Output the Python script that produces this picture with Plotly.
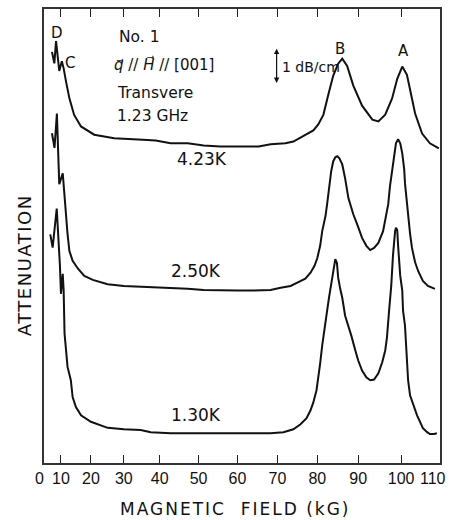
import numpy as np
import plotly.graph_objects as go

# ---------------- data ----------------
# Recorder field scale (kG) -- non-linear, tick labels as printed
field_ticks = [0, 10, 20, 30, 40, 50, 60, 70, 80, 90, 100, 110]
tick_labels = [str(v) for v in field_ticks]

# 4.23 K trace: magnetic field (kG) / attenuation (dB/cm, offset for display)
field_423 = [4.7, 6.1, 7.1, 9.0, 10.3, 10.9, 11.7, 12.8, 14.4, 16.7, 21.0, 27.1, 35.3, 38.9,
             42.8, 47.2, 51.3, 55.6, 60.0, 65.3, 68.3, 72.0, 74.0, 77.0, 79.0, 80.2, 81.5,
             82.7, 83.9, 85.1, 86.1, 87.3, 88.8, 90.9, 93.3, 94.7, 96.3, 97.9, 99.1, 100.3,
             101.5, 102.3, 103.6, 105.4, 107.4, 109.7]
att_423 = [11.47, 11.15, 11.77, 10.94, 11.21, 11.01, 10.64, 10.18, 9.71, 9.39, 9.16, 9.06, 9.02, 9.00,
           8.92, 8.92, 8.86, 8.83, 8.83, 8.83, 8.89, 8.92, 8.97, 9.17, 9.28, 9.44, 9.72,
           10.28, 10.81, 11.14, 11.28, 11.08, 10.53, 9.97, 9.58, 9.53, 9.72, 10.17, 10.72, 11.06,
           10.83, 10.42, 9.75, 9.19, 8.92, 8.78]

# 2.50 K trace
field_250 = [4.7, 6.2, 7.6, 8.2, 9.0, 10.6, 11.1, 12.2, 12.8, 13.9, 15.7, 17.8, 20.6, 25.1,
             30.0, 34.7, 38.3, 42.8, 47.2, 51.3, 55.6, 60.0, 64.0, 68.3, 70.8, 73.3, 75.0,
             77.0, 78.3, 79.3, 80.0, 80.7, 81.2, 82.0, 82.4, 82.9, 83.4, 83.9, 84.4, 84.9,
             85.4, 86.1, 86.8, 87.6, 88.8, 90.0, 90.9, 91.9, 92.8, 93.7, 94.7, 95.8, 96.5,
             97.0, 97.4, 97.9, 98.4, 98.8, 99.3, 99.8, 100.3, 100.8, 101.0, 101.5, 101.8,
             102.3, 102.8, 103.6, 104.4, 105.6, 106.9, 108.7]
att_250 = [9.20, 8.79, 9.75, 8.69, 7.78, 8.08, 7.49, 6.39, 5.92, 5.64, 5.42, 5.22, 5.11, 4.99,
           4.94, 4.92, 4.92, 4.89, 4.86, 4.83, 4.81, 4.81, 4.81, 4.83, 4.89, 4.94, 5.03,
           5.14, 5.31, 5.50, 5.72, 6.06, 6.47, 6.89, 7.22, 7.72, 8.14, 8.42, 8.53, 8.56,
           8.50, 8.33, 7.94, 7.39, 6.94, 6.58, 6.28, 6.06, 5.94, 6.00, 6.14, 6.47, 6.89,
           7.22, 7.72, 8.19, 8.64, 8.92, 9.03, 8.92, 8.64, 8.19, 7.80, 7.20, 6.80,
           6.40, 6.00, 5.60, 5.35, 5.08, 4.94, 4.86]

# 1.30 K trace
field_130 = [3.7, 5.1, 7.5, 8.4, 9.4, 10.0, 10.6, 10.9, 11.0, 11.2, 12.2, 13.3, 13.9, 15.0,
             16.7, 20.0, 25.1, 30.0, 34.7, 37.5, 42.8, 47.2, 53.8, 59.0, 64.0, 68.3, 71.5,
             74.0, 75.8, 77.3, 78.3, 79.0, 79.8, 80.2, 80.7, 81.2, 81.7, 82.4, 82.9, 83.4,
             83.9, 84.4, 84.8, 85.1, 85.6, 86.1, 86.8, 87.6, 88.3, 89.3, 90.0, 90.9, 91.9,
             92.8, 93.7, 94.7, 95.6, 96.3, 96.7, 97.2, 97.7, 98.1, 98.4, 98.6, 98.8, 99.1,
             99.3, 99.5, 99.8, 100.3, 100.5, 101.0, 101.5, 101.8, 102.3, 103.1, 104.1,
             104.9, 105.6, 106.7, 107.4, 108.5, 109.2]
att_130 = [6.38, 6.01, 7.10, 6.38, 5.50, 4.72, 5.28, 4.81, 4.39, 3.61, 2.68, 2.31, 1.84, 1.56,
           1.33, 1.15, 0.98, 0.94, 0.92, 0.86, 0.83, 0.83, 0.81, 0.83, 0.83, 0.83, 0.86,
           0.94, 1.08, 1.25, 1.47, 1.69, 2.03, 2.31, 2.78, 3.28, 3.75, 4.25, 4.64, 5.03,
           5.42, 5.69, 5.58, 5.17, 4.86, 4.61, 4.11, 3.83, 3.56, 3.14, 2.86, 2.58, 2.39,
           2.31, 2.33, 2.50, 2.81, 3.14, 3.50, 4.25, 4.94, 5.78, 6.25, 6.47, 6.56, 6.50,
           6.06, 5.64, 5.22, 4.81, 4.25, 3.83, 2.86, 2.31, 1.89, 1.61, 1.33,
           1.14, 0.97, 0.86, 0.81, 0.81, 0.83]

# ---------------- non-linear field scale of the recorder chart ----------------
# axis position (plot units) at which each printed field tick sits
scale_pos = [0, 17, 47, 80, 116, 155, 194, 234, 274, 315, 358, 397]


def to_axis(f):
    return np.interp(np.asarray(f, dtype=float), field_ticks, scale_pos)


FONT = "DejaVu Sans"
TICKFONT = "Liberation Sans"
INK = "#111111"

fig = go.Figure()
for fx, fy in [(field_423, att_423), (field_250, att_250), (field_130, att_130)]:
    fig.add_trace(go.Scatter(x=to_axis(fx), y=fy, mode="lines",
                             line=dict(color=INK, width=2), showlegend=False,
                             hoverinfo="skip"))

ann = []


def txt(x, y, s, size, xanchor="center", family=FONT):
    ann.append(dict(x=x, y=y, xref="paper", yref="paper", text=s, showarrow=False,
                    xanchor=xanchor, yanchor="middle",
                    font=dict(family=family, size=size, color=INK)))


txt(0.033, 0.947, "D", 15)
txt(0.065, 0.882, "C", 15)
txt(0.748, 0.912, "B", 15)
txt(0.907, 0.908, "A", 15)
txt(0.184, 0.939, "No. 1", 15.5, "left")
txt(0.172, 0.877, "<i>q\u20d7</i> // <i>H\u20d7</i> // [001]", 15, "left")
txt(0.179, 0.814, "Transvere", 15.5, "left")
txt(0.179, 0.765, "1.23 GHz", 15.5, "left")
txt(0.597, 0.873, "1 dB/cm", 14, "left")
txt(0.398, 0.669, "4.23K", 17)
txt(0.383, 0.423, "2.50K", 17)
txt(0.385, 0.105, "1.30K", 17)

# the end labels "0" and "110" sit at the very frame edges on the original chart,
# so they are written as annotations (a tick label at the edge would be clipped)
ticktext = [""] + tick_labels[1:-1] + [""]
txt(-0.012, -0.0335, tick_labels[0], 16, family=TICKFONT)
txt(0.982, -0.0335, tick_labels[-1], 16, family=TICKFONT)

# scale bar (1 dB/cm double arrow)
ann.append(dict(x=float(to_axis(69.8)), y=11.56, xref="x", yref="y",
                ax=float(to_axis(69.8)), ay=10.56, axref="x", ayref="y",
                text="", showarrow=True, arrowhead=2, startarrowhead=2,
                arrowside="end+start", arrowsize=0.9, startarrowsize=0.9,
                arrowwidth=1.2, arrowcolor=INK, standoff=0, startstandoff=0))

# axis titles
ann.append(dict(x=0.484, y=-0.101, xref="paper", yref="paper",
                text="<span style='letter-spacing:2px'>MAGNETIC\u00a0\u00a0FIELD\u00a0(kG)</span>",
                showarrow=False, xanchor="center", yanchor="middle",
                font=dict(family=FONT, size=17, color=INK)))
ann.append(dict(x=-0.050, y=0.436, xref="paper", yref="paper",
                text="<span style='letter-spacing:1.5px'>ATTENUATION</span>",
                textangle=-90, showarrow=False, xanchor="center", yanchor="middle",
                font=dict(family=FONT, size=18, color=INK)))

fig.update_layout(
    width=449, height=520,
    margin=dict(l=44, r=8, t=7, b=57),
    paper_bgcolor="white", plot_bgcolor="white",
    annotations=ann,
    showlegend=False,
    xaxis=dict(range=[0, 397], tickmode="array", tickvals=scale_pos, ticktext=ticktext,
               ticks="inside", ticklen=8, tickwidth=1.2, tickcolor="#222222",
               showline=True, linecolor="#333333", linewidth=1.5, mirror="ticks",
               showgrid=False, zeroline=False, tickangle=0,
               tickfont=dict(family=TICKFONT, size=16, color=INK)),
    yaxis=dict(range=[0, 456 / 36], showline=True, linecolor="#333333", linewidth=1.5,
               mirror=True, showticklabels=False, ticks="", showgrid=False,
               zeroline=False),
)

fig.write_html("out.html")
